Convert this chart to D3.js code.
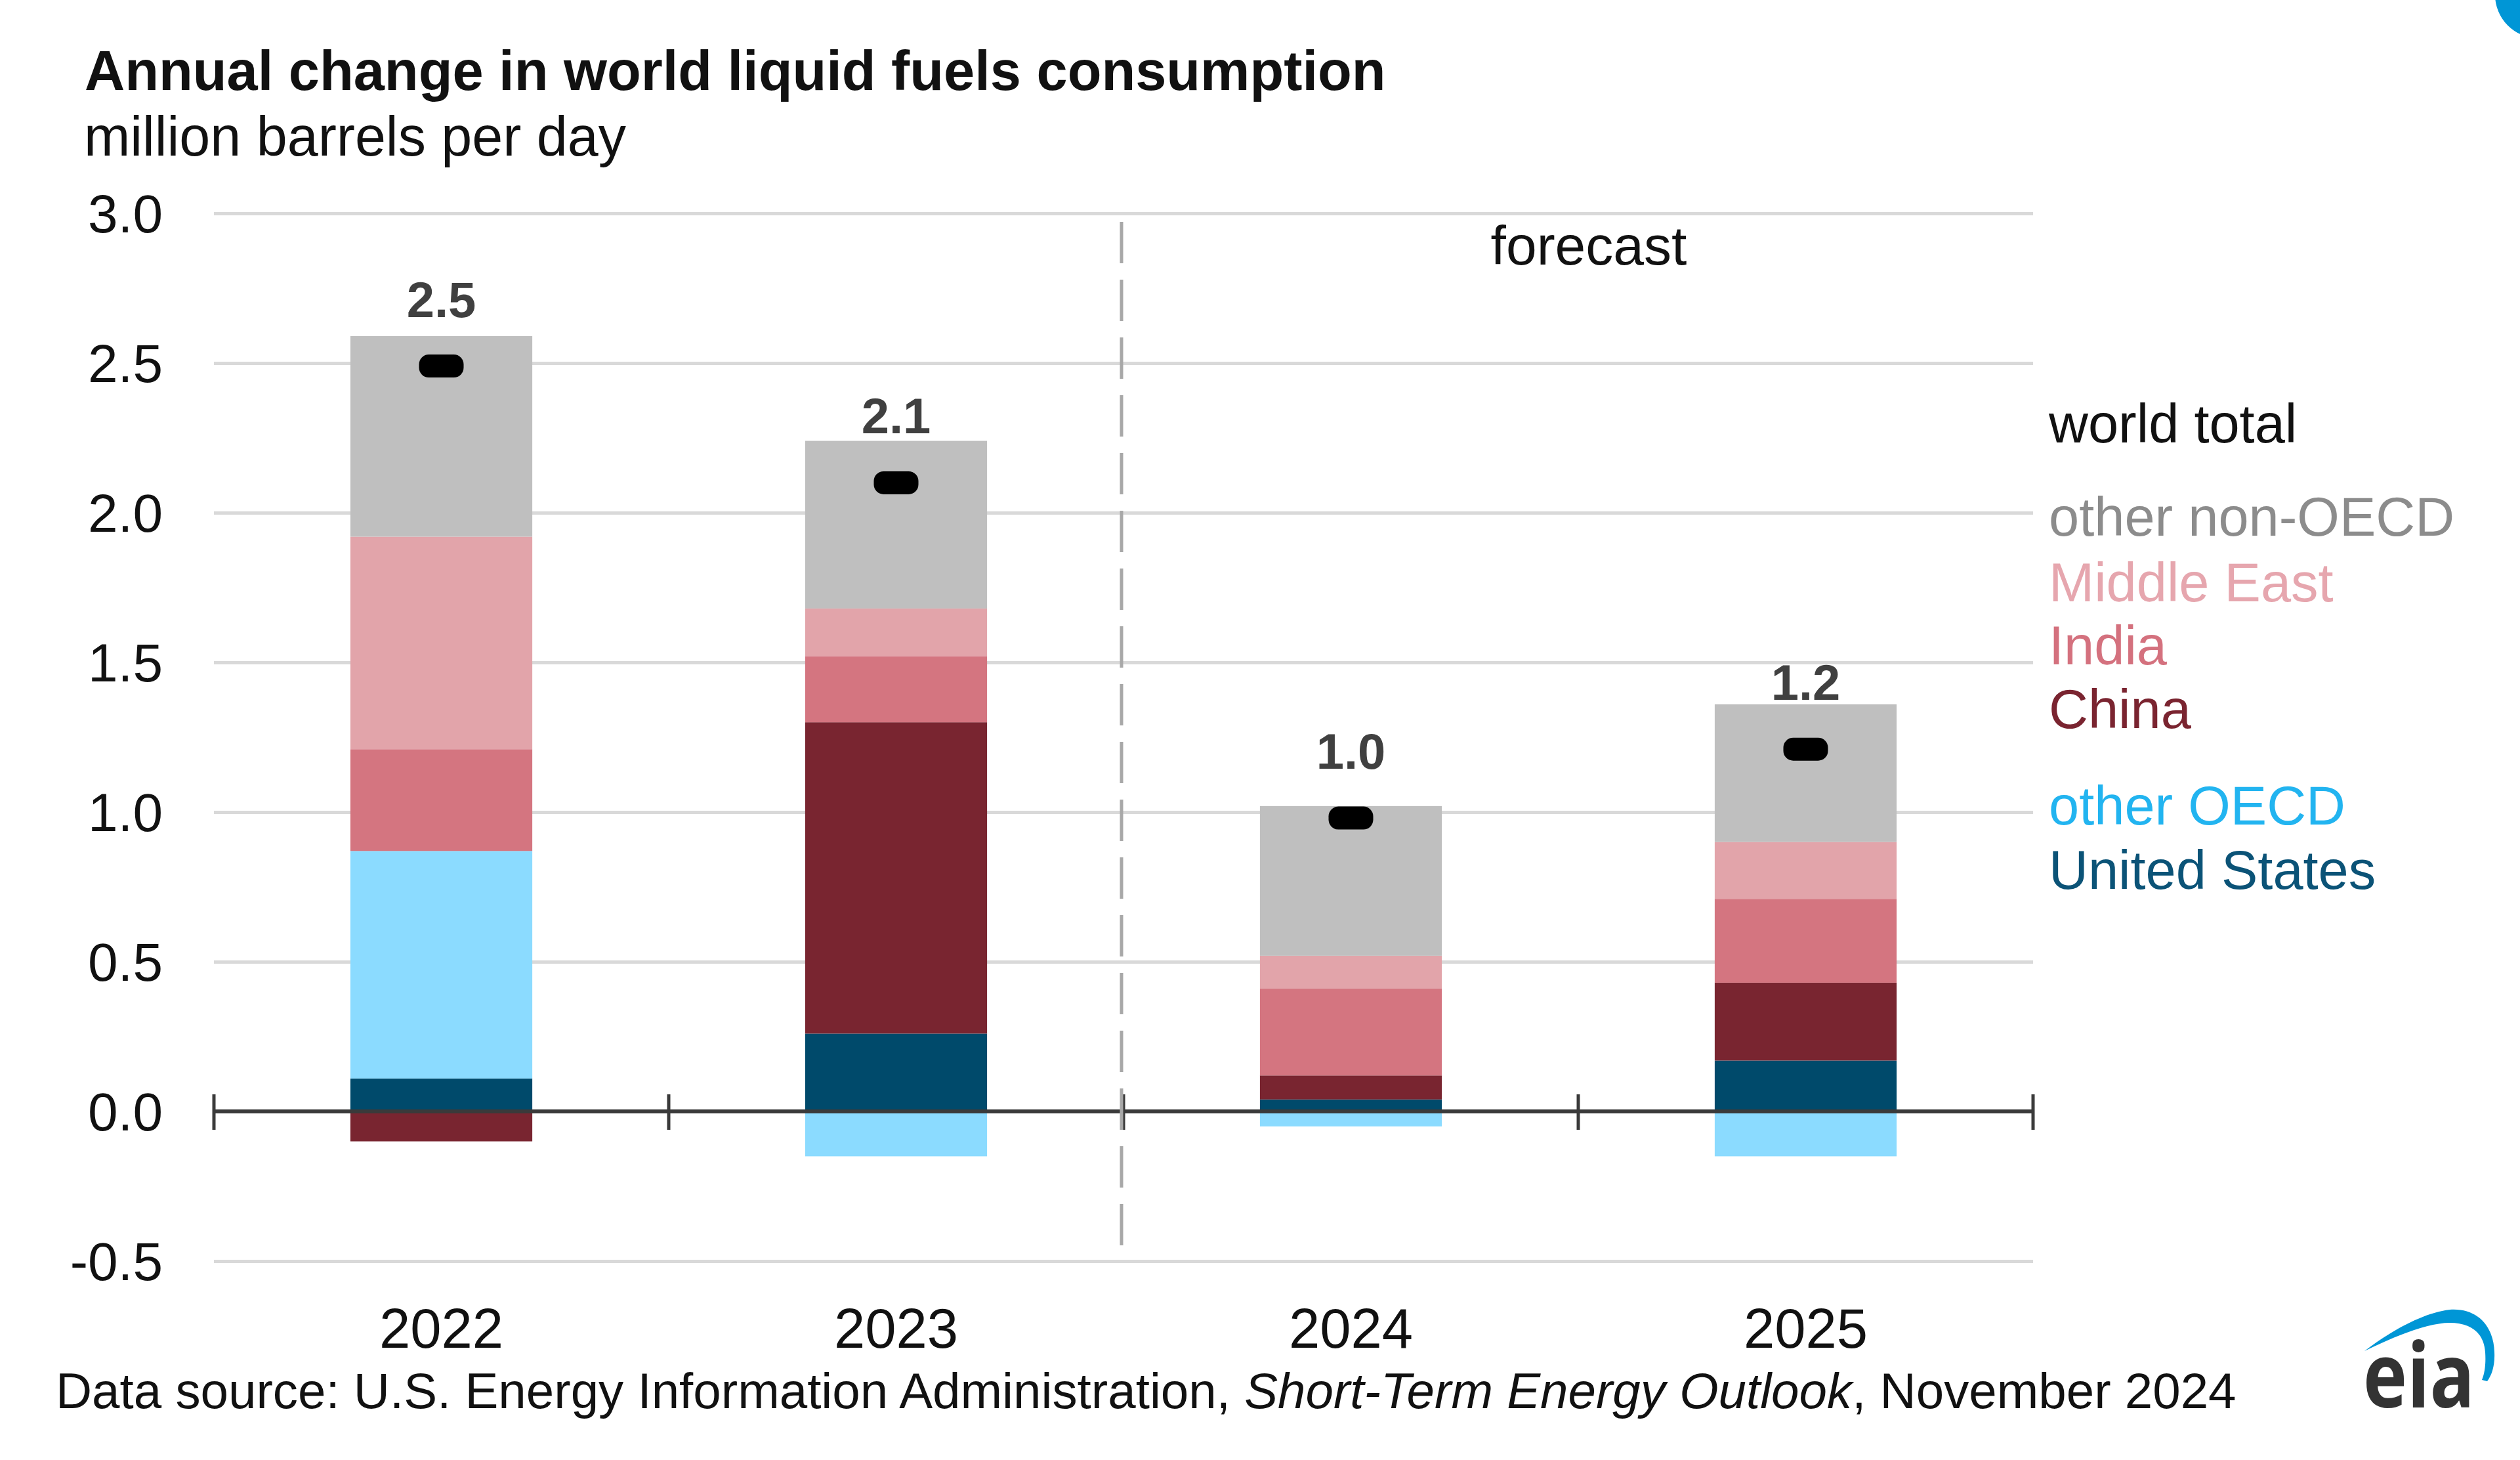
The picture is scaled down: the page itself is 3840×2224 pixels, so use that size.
<!DOCTYPE html>
<html>
<head>
<meta charset="utf-8">
<script src="https://cdn.jsdelivr.net/npm/d3@7"></script>
<style>
  html, body { margin: 0; padding: 0; background: #ffffff; }
  svg { display: block; font-family: "Liberation Sans", Arial, sans-serif; }
</style>
</head>
<body>
<svg id="chart" width="3840" height="2224"></svg>
<script>
// ---------------- data ----------------
const years = ["2022", "2023", "2024", "2025"];
const unitedStates = [0.11, 0.26, 0.04, 0.17];
const otherOECD = [0.76, -0.15, -0.05, -0.15];
const china = [-0.10, 1.04, 0.08, 0.26];
const india = [0.34, 0.22, 0.29, 0.28];
const middleEast = [0.71, 0.16, 0.11, 0.19];
const otherNonOECD = [0.67, 0.56, 0.50, 0.46];
const worldTotal = [2.49, 2.10, 0.98, 1.21];
const totalLabels = ["2.5", "2.1", "1.0", "1.2"];
const yTicks = [-0.5, 0.0, 0.5, 1.0, 1.5, 2.0, 2.5, 3.0];
const yTickLabels = ["-0.5", "0.0", "0.5", "1.0", "1.5", "2.0", "2.5", "3.0"];
const seriesKeys = ["United States", "other OECD", "China", "India", "Middle East", "other non-OECD"];
const seriesValues = [unitedStates, otherOECD, china, india, middleEast, otherNonOECD];
const seriesColors = ["#004a6b", "#8bdbff", "#792530", "#d47580", "#e2a4aa", "#bfbfbf"];
const legendLabels = ["world total", "other non-OECD", "Middle East", "India", "China", "other OECD", "United States"];
const legendColors = ["#111111", "#8c8c8c", "#e6a6ae", "#d4717e", "#7a2430", "#22b4f0", "#0b5377"];

// ---------------- layout ----------------
const svg = d3.select("#chart");
svg.append("rect").attr("width", 3840).attr("height", 2224).attr("fill", "#ffffff");

const plotLeft = 326, plotRight = 3098;
const x = d3.scaleBand().domain(years).range([plotLeft, plotRight]).paddingInner(0.6).paddingOuter(0.3);
const y = d3.scaleLinear().domain([-0.5, 3.0]).range([1921, 325]);

function fitWidth(sel, target) {
  const w = sel.node().getComputedTextLength();
  const fs = parseFloat(sel.attr("font-size"));
  sel.attr("font-size", (fs * target / w).toFixed(2));
}

// title + subtitle
const title = svg.append("text").attr("x", 129).attr("y", 137)
  .attr("font-size", 85).attr("font-weight", "bold").attr("fill", "#111111")
  .text("Annual change in world liquid fuels consumption");
fitWidth(title, 1983);
const sub = svg.append("text").attr("x", 128).attr("y", 237)
  .attr("font-size", 84).attr("fill", "#111111")
  .text("million barrels per day");
fitWidth(sub, 826);

// gridlines (skip zero)
const gridAxis = d3.axisLeft(y).tickValues(yTicks.filter(d => d !== 0))
  .tickSize(-(plotRight - plotLeft)).tickFormat("");
const gg = svg.append("g").attr("transform", `translate(${plotLeft},0)`).call(gridAxis);
gg.select(".domain").remove();
gg.selectAll(".tick line").attr("stroke", "#d9d9d9").attr("stroke-width", 5);

// y tick labels
const labAxis = d3.axisLeft(y).tickValues(yTicks).tickSize(0).tickPadding(0)
  .tickFormat((d, i) => yTickLabels[i]);
const lg = svg.append("g").attr("transform", `translate(248,0)`).call(labAxis);
lg.select(".domain").remove();
lg.selectAll(".tick text").attr("font-size", 82).attr("fill", "#111111")
  .attr("font-family", "Liberation Sans, Arial, sans-serif").attr("dy", "0.35em").attr("x", 0);

// stacked bars
const table = years.map((yr, i) => {
  const row = { year: yr };
  seriesKeys.forEach((k, j) => row[k] = seriesValues[j][i]);
  return row;
});
const stack = d3.stack().keys(seriesKeys).offset(d3.stackOffsetDiverging);
const layers = stack(table);
svg.append("g").selectAll("g").data(layers).join("g")
  .attr("fill", (d, i) => seriesColors[i])
  .selectAll("rect").data(d => d).join("rect")
  .attr("x", d => x(d.data.year))
  .attr("width", x.bandwidth())
  .attr("y", d => y(Math.max(d[0], d[1])))
  .attr("height", d => Math.abs(y(d[0]) - y(d[1])));

// zero axis line + category ticks
const tickXs = [plotLeft].concat(years.slice(1).map(yr => x(yr) - x.step() * x.paddingInner() / 2), [plotRight]);
svg.append("g").selectAll("line").data(tickXs).join("line")
  .attr("x1", d => d).attr("x2", d => d)
  .attr("y1", y(0) - 26).attr("y2", y(0) + 28)
  .attr("stroke", "#3a3a3a").attr("stroke-width", 5);
svg.append("line").attr("x1", plotLeft).attr("x2", plotRight)
  .attr("y1", y(0)).attr("y2", y(0)).attr("stroke", "#3a3a3a").attr("stroke-width", 6);

// forecast divider
const divX = tickXs[2] - 3;
svg.append("line").attr("x1", divX).attr("x2", divX)
  .attr("y1", y(3.0) + 13).attr("y2", y(-0.5))
  .attr("stroke", "#a8a8a8").attr("stroke-width", 5).attr("stroke-dasharray", "63,25");
svg.append("text").attr("x", 2421).attr("y", 403).attr("text-anchor", "middle")
  .attr("font-size", 84).attr("fill", "#111111").text("forecast");

// world total markers + labels
const totals = years.map((yr, i) => ({ year: yr, v: worldTotal[i], label: totalLabels[i] }));
svg.append("g").selectAll("rect").data(totals).join("rect")
  .attr("x", d => x(d.year) + x.bandwidth() / 2 - 34)
  .attr("y", d => y(d.v) - 17.5)
  .attr("width", 68).attr("height", 35).attr("rx", 15).attr("fill", "#000000");
svg.append("g").selectAll("text").data(totals).join("text")
  .attr("x", d => x(d.year) + x.bandwidth() / 2)
  .attr("y", d => y(d.v) - 75)
  .attr("text-anchor", "middle").attr("font-size", 76).attr("font-weight", "bold")
  .attr("fill", "#404040").text(d => d.label);

// x labels
svg.append("g").selectAll("text").data(years).join("text")
  .attr("x", d => x(d) + x.bandwidth() / 2).attr("y", 2053)
  .attr("text-anchor", "middle").attr("font-size", 85).attr("fill", "#111111")
  .text(d => d);

// legend
const legendY = [674, 816, 916, 1012, 1109, 1256, 1354];
svg.append("g").selectAll("text").data(legendLabels).join("text")
  .attr("x", 3122).attr("y", (d, i) => legendY[i])
  .attr("font-size", 83).attr("fill", (d, i) => legendColors[i])
  .text(d => d);

// source line
const src = svg.append("text").attr("x", 85).attr("y", 2145).attr("font-size", 73).attr("fill", "#111111");
src.append("tspan").text("Data source: U.S. Energy Information Administration, ");
src.append("tspan").attr("font-style", "italic").text("Short-Term Energy Outlook");
src.append("tspan").text(", November 2024");
fitWidth(src, 3323);

// eia logo
svg.append("path")
  .attr("d", "M3603,2058 C3640,2030 3690,2000 3733,1995 C3775,1992 3800,2020 3801,2060 C3802,2080 3797,2095 3790,2104 L3782,2102 C3787,2090 3788,2075 3787,2060 C3785,2030 3765,2015 3733,2015 C3700,2015 3650,2035 3603,2058 Z")
  .attr("fill", "#0096d6");
svg.append("text").attr("x", 3601).attr("y", 2144)
  .attr("font-family", "'Open Sans', sans-serif").attr("font-weight", 700)
  .attr("font-size", 136).attr("fill", "#333333")
  .attr("textLength", 170).attr("lengthAdjust", "spacingAndGlyphs").text("eia");

// corner circle
svg.append("circle").attr("cx", 3868).attr("cy", -8).attr("r", 66).attr("fill", "#0096d6");
</script>
</body>
</html>
